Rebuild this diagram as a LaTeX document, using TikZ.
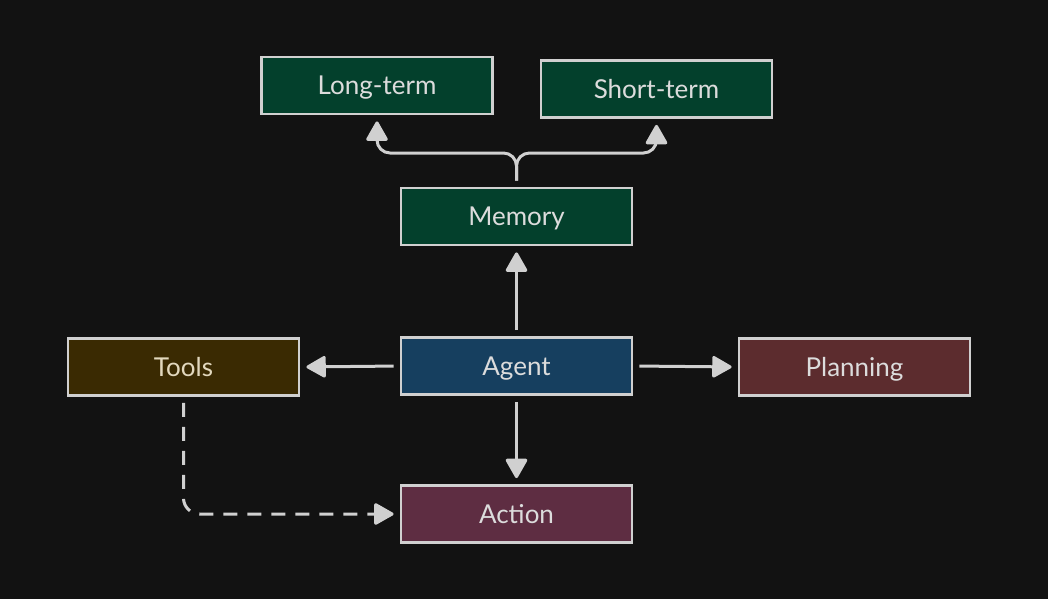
\documentclass[tikz,border=0pt]{standalone}
\usepackage{fontspec}
\setmainfont{Lato}
\usetikzlibrary{arrows.meta}
\definecolor{bg}{RGB}{18,18,18}
\definecolor{edge}{RGB}{208,208,208}
\definecolor{txt}{RGB}{220,220,220}
\definecolor{toolstxt}{RGB}{226,216,190}
\definecolor{memfill}{RGB}{3,64,44}
\definecolor{agentfill}{RGB}{22,63,95}
\definecolor{toolsfill}{RGB}{58,42,2}
\definecolor{planfill}{RGB}{92,44,46}
\definecolor{actfill}{RGB}{94,45,66}
\tikzset{
  box/.style={draw=edge, line width=2.8pt, minimum width=231pt, minimum height=57pt,
    inner sep=0pt, text height=18.5pt, text depth=0pt, text=txt,
    font=\fontsize{26}{30}\selectfont},
  arr/.style={draw=edge, line width=3pt, shorten <=6pt, shorten >=6pt,
    -{Triangle[length=21pt,width=23pt,round]}},
  dasharr/.style={arr, dash pattern=on 14pt off 10pt},
}
\begin{document}
\begin{tikzpicture}[x=1pt,y=-1pt]
\fill[bg] (0,0) rectangle (1048,599);
\useasboundingbox (0,0) rectangle (1048,599);
\node[box, fill=memfill] (longterm) at (377,85.5) {Long-term};
\node[box, fill=memfill] (shortterm) at (656.5,89) {Short-term};
\node[box, fill=memfill] (memory) at (516.5,216.5) {Memory};
\node[box, fill=toolsfill, text=toolstxt] (tools) at (183.5,367) {Tools};
\node[box, fill=agentfill] (agent) at (516.5,366) {Agent};
\node[box, fill=planfill] (planning) at (854.5,367) {Planning};
\node[box, fill=actfill] (action) at (516.5,514) {Action};
\coordinate (br) at (516.5,153);
\draw[arr, rounded corners=13pt] (memory.north) -- (br) -| (longterm.south);
\draw[arr, rounded corners=13pt] (memory.north) -- (br) -| (shortterm.south);
\draw[arr] (agent.north) -- (memory.south);
\draw[arr] (agent.west) -- (tools.east);
\draw[arr] (agent.east) -- (planning.west);
\draw[arr] (agent.south) -- (action.north);
\draw[dasharr, rounded corners=16pt] (tools.south) |- (action.west);
\end{tikzpicture}
\end{document}
